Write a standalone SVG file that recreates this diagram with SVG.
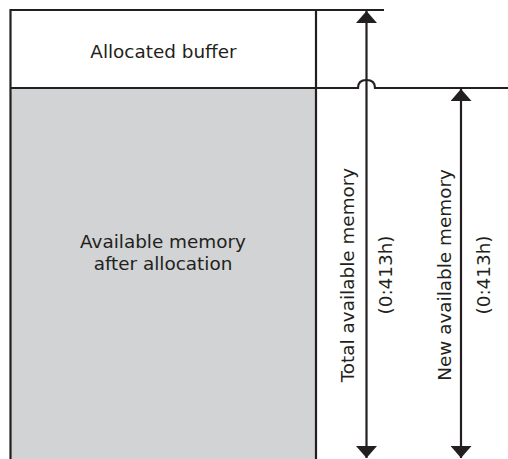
<svg xmlns="http://www.w3.org/2000/svg" width="508" height="459" viewBox="0 0 508 459">
<style>
.ln{stroke:#231f20;stroke-width:2.2;fill:none}
.t{font-family:"DejaVu Sans",sans-serif;font-size:18.4px;fill:#231f20;text-anchor:middle}
</style>
<defs>
<marker id="ah" viewBox="0 0 12 21" refX="12" refY="10.5" markerWidth="12" markerHeight="21" markerUnits="userSpaceOnUse" orient="auto-start-reverse">
<path d="M0 0 L12 10.5 L0 21 Z" fill="#231f20"/>
</marker>
</defs>
<rect width="508" height="459" fill="#fff"/>
<g id="buffer">
<rect x="10" y="10" width="306" height="78" fill="#fff"/>
<text class="t" x="163.5" y="58">Allocated buffer</text>
</g>
<g id="available">
<rect x="10" y="88" width="306" height="371" fill="#d1d3d4"/>
<text class="t" x="163" y="248">Available memory</text>
<text class="t" x="163" y="270">after allocation</text>
</g>
<g id="outline">
<path class="ln" d="M10.5 459 V10 H384"/>
<path class="ln" d="M316 10 V459"/>
<path class="ln" d="M10 88 H358 Q358 80 366.5 80 Q375 80 375 88 H508"/>
</g>
<g id="connectors">
<line class="ln" x1="366.5" y1="11" x2="366.5" y2="458" marker-start="url(#ah)" marker-end="url(#ah)"/>
<line class="ln" x1="461" y1="89" x2="461" y2="458" marker-start="url(#ah)" marker-end="url(#ah)"/>
</g>
<g id="labels">
<text class="t" transform="translate(354,275) rotate(-90)">Total available memory</text>
<text class="t" transform="translate(392,275) rotate(-90)">(0:413h)</text>
<text class="t" transform="translate(451,275) rotate(-90)">New available memory</text>
<text class="t" transform="translate(490,275) rotate(-90)">(0:413h)</text>
</g>
</svg>
